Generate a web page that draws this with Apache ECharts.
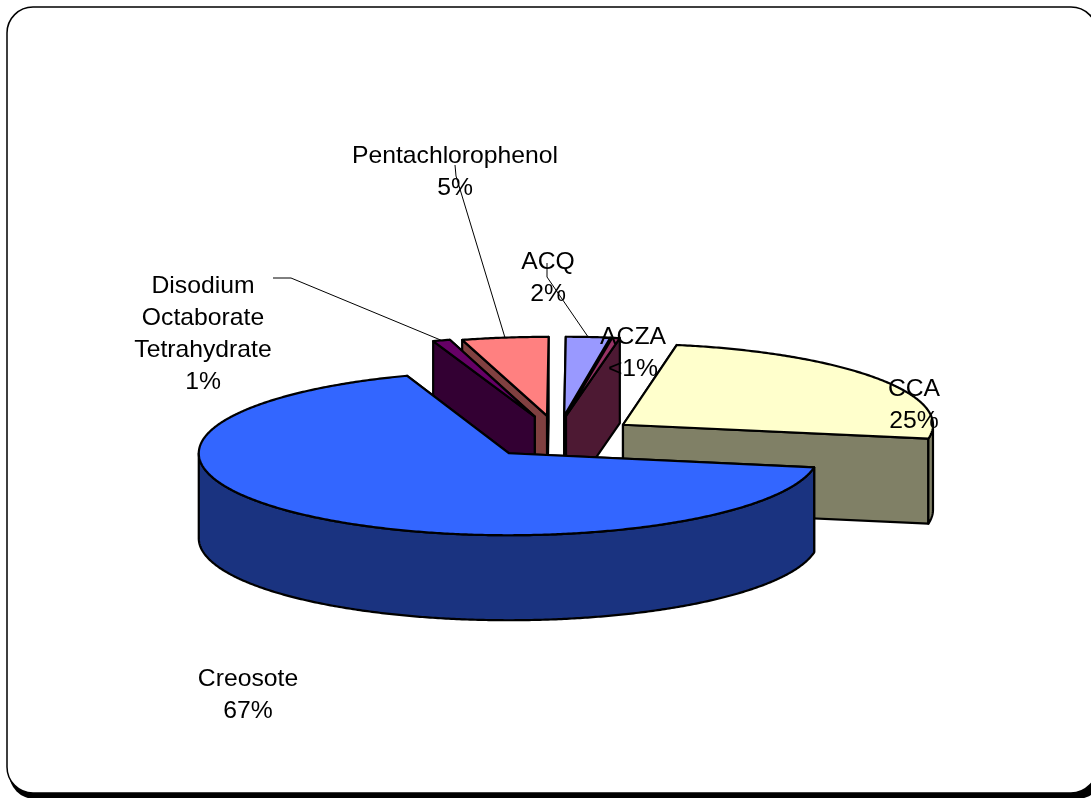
<!DOCTYPE html>
<html>
<head>
<meta charset="utf-8">
<style>html,body{margin:0;padding:0;background:#fff}#c{width:1091px;height:798px}</style>
<script src="https://cdn.jsdelivr.net/npm/echarts@6/dist/echarts.min.js"></script>
</head>
<body>
<div id="c"></div>
<script>
// Data (clockwise from the first slice)
var categories = ['CCA', 'Creosote', 'Disodium\nOctaborate\nTetrahydrate', 'Pentachlorophenol', 'ACQ', 'ACZA'];
var shareValues = [25, 67, 0.9, 4.5, 2.3, 0.4];
var shareLabels = ['25%', '67%', '1%', '5%', '2%', '<1%'];

// Styles
var topColors = ['#FFFFCC', '#3366FF', '#660066', '#FF8080', '#9999FF', '#993366'];
var wallColors = ['#808066', '#1A3380', '#330033', '#804040', '#4D4D80', '#4D1933'];

// Layout
var layout = {cx: 560, cy: 437, rx: 310, ry: 82, depth: 85, explode: 0.26, start: 80};
var rimHeights = [81, 82, 80, 79, 79, 79];
var tipNudges = [-3, 1, -1, -2, -2, -7];
var labelCentres = [[914, 389], [248, 679], [203, 286], [455, 156], [548, 262], [633, 337]];
var leaderStarts = [null, null, [[273, 278], [291, 278]], [[455, 165], [456, 176]], [[547, 263], [547, 277]], null];
var LINE_H = 32, FONT_SIZE = 24, FONT_STRETCH = 1.03;

var total = shareValues.reduce(function (a, b) { return a + b; }, 0);
var spans = [], acc = layout.start;
shareValues.forEach(function (v) {
  var sweep = v / total * 360;
  spans.push({s: acc, e: acc - sweep, mid: acc - sweep / 2});
  acc -= sweep;
});
function rad(d) { return d * Math.PI / 180; }
function norm180(d) { d = ((d % 360) + 360) % 360; return d > 180 ? d - 360 : d; }
var order = spans.map(function (sp, i) { return {i: i, d: Math.abs(norm180(sp.mid - 90))}; })
  .sort(function (a, b) { return a.d - b.d; });
var rank = {};
order.forEach(function (o, r) { rank[o.i] = r; });

function tipOf(i) {
  var sp = spans[i];
  return [layout.cx + Math.cos(rad(sp.mid)) * layout.rx * layout.explode + tipNudges[i],
          layout.cy - Math.sin(rad(sp.mid)) * layout.ry * layout.explode];
}
function rimPoint(i, tip, a) {
  return [tip[0] + Math.cos(rad(a)) * layout.rx, tip[1] - Math.sin(rad(a)) * rimHeights[i]];
}
function arc(i, tip, from, to) {
  var n = Math.max(2, Math.ceil(Math.abs(from - to) * 2)), pts = [];
  for (var k = 0; k <= n; k++) pts.push(rimPoint(i, tip, from + (to - from) * k / n));
  return pts;
}
function down(p) { return [p[0], p[1] + layout.depth]; }
function poly(points, fill, z) {
  return {type: 'polygon', z2: z, shape: {points: points},
          style: {fill: fill, stroke: '#000', lineWidth: 2.2, lineJoin: 'round'}};
}
function radialWall(i, tip, a, z) {
  var p = rimPoint(i, tip, a);
  return poly([tip, p, down(p), down(tip)], wallColors[i], z);
}

function renderSlice(params, api) {
  var i = params.dataIndex, sp = spans[i], tip = tipOf(i), base = rank[i] * 10 + 1, kids = [];
  var frontS = Math.cos(rad(sp.s)) < 0, frontE = Math.cos(rad(sp.e)) > 0;
  kids.push(radialWall(i, tip, sp.s, base + (frontS ? 2 : 1)));
  kids.push(radialWall(i, tip, sp.e, base + (frontE ? 2 : 1)));
  var hi = Math.min(sp.s, 0), lo = Math.max(sp.e, -180);
  if (hi > lo) {
    var rim = arc(i, tip, hi, lo);
    kids.push(poly(rim.concat(rim.slice().reverse().map(down)), wallColors[i], base + 3));
  }
  kids.push(poly([tip].concat(arc(i, tip, sp.s, sp.e)), topColors[i], base + 4));
  return {type: 'group', children: kids};
}

function renderLabel(params, api) {
  var i = params.dataIndex, c = labelCentres[i], kids = [];
  (categories[i] + '\n' + shareLabels[i]).split('\n').forEach(function (line, k) {
    kids.push({type: 'text', z2: 200, x: c[0], y: c[1] + k * LINE_H, scaleX: FONT_STRETCH,
      style: {text: line, fill: '#000', align: 'center', verticalAlign: 'middle',
              font: FONT_SIZE + 'px "Liberation Sans"'}});
  });
  if (leaderStarts[i]) {
    var sp = spans[i], tip = tipOf(i), end = rimPoint(i, tip, sp.mid);
    kids.push({type: 'polyline', z2: 190, shape: {points: leaderStarts[i].concat([end])},
      style: {fill: 'none', stroke: '#000', lineWidth: 1}});
  }
  return {type: 'group', children: kids};
}

var sliceData = categories.map(function (n, i) { return {name: n, value: shareValues[i]}; });
var chart = echarts.init(document.getElementById('c'), null, {width: 1091, height: 798});
chart.setOption({
  animation: false,
  backgroundColor: '#fff',
  graphic: [
    {type: 'rect', z: -2, shape: {x: 9, y: 11, width: 1094, height: 788, r: 26}, style: {fill: '#000'}},
    {type: 'rect', z: -1, shape: {x: 7, y: 7, width: 1090, height: 786, r: 26},
     style: {fill: '#fff', stroke: '#000', lineWidth: 1.5}}
  ],
  series: [
    {type: 'custom', coordinateSystem: 'none', silent: true, z: 2, renderItem: renderSlice, data: sliceData},
    {type: 'custom', coordinateSystem: 'none', silent: true, z: 3, renderItem: renderLabel, data: sliceData}
  ]
});
</script>
</body>
</html>
